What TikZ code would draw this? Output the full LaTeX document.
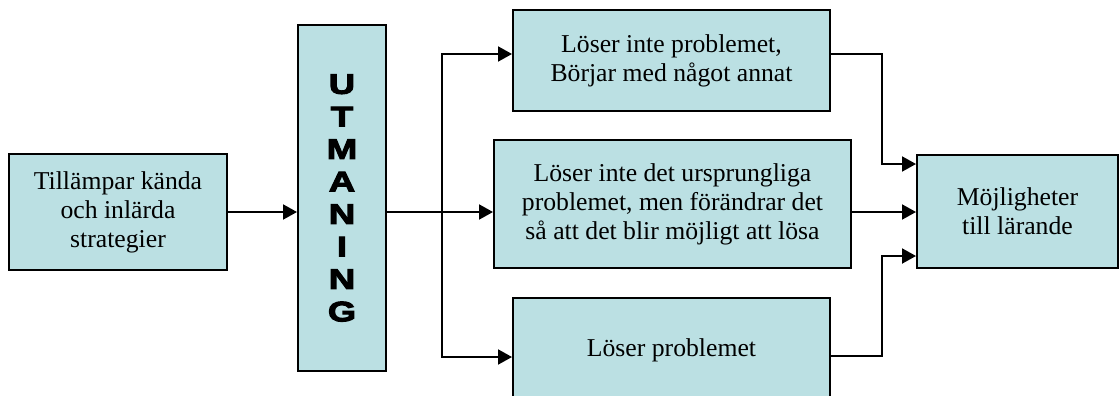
\documentclass[tikz,border=0pt]{standalone}
\usepackage{fontspec}
\setmainfont{Liberation Serif}
\newfontfamily\heavyfont{Liberation Sans}[BoldFeatures={FakeBold=4,FakeStretch=1.3}]
\usetikzlibrary{arrows.meta}
\definecolor{boxfill}{RGB}{187,224,227}
\tikzset{
  box/.style={draw=black, line width=1pt, fill=boxfill, inner sep=0pt,
    align=center, font=\fontsize{12.85}{14.5}\selectfont},
  link/.style={draw=black, line width=1pt},
  arr/.style={link, -{Triangle[length=7pt,width=7.5pt]}}
}
\begin{document}
\begin{tikzpicture}[x=0.5pt,y=-0.5pt]
  \useasboundingbox (0,0) rectangle (1119,396);
  \clip (0,0) rectangle (1119,396);

  % boxes (positions in pixel units, sizes in pt)
  \node[box, minimum width=109pt, minimum height=58pt] (apply) at (118,212)
    {Tillämpar kända\\och inlärda\\strategier};
  \node[box, minimum width=44pt, minimum height=173pt,
        font=\heavyfont\bfseries\fontsize{14}{16.25}\selectfont] (chal) at (342,198)
    {U\\T\\M\\A\\N\\I\\N\\G};
  \node[box, minimum width=158.5pt, minimum height=50.5pt] (other) at (671.5,60.5)
    {Löser inte problemet,\\Börjar med något annat};
  \node[box, minimum width=178.5pt, minimum height=64pt] (change) at (672.5,204)
    {Löser inte det ursprungliga\\problemet, men förändrar det\\så att det blir möjligt att lösa};
  \node[box, minimum width=158.5pt, minimum height=52pt] (solve) at (671.5,350)
    {Löser problemet};
  \node[box, minimum width=100.5pt, minimum height=56.5pt] (learn) at (1017.5,211.5)
    {Möjligheter\\till lärande};

  % junction points of the connectors
  \coordinate (split) at (442,212);
  \coordinate (merge) at (882,212);
  \coordinate (intop) at ([yshift=23.75pt]learn.west);
  \coordinate (inbot) at ([yshift=-22.25pt]learn.west);

  % into the challenge
  \draw[arr] (apply.east) -- (apply.east -| chal.west);

  % out of the challenge to the three responses
  \draw[link] (chal.east |- split) -- (split);
  \draw[arr] (split) -- (change.west |- split);
  \draw[arr] (split) |- ([yshift=3.25pt]other.west);
  \draw[arr] (split) |- ([yshift=-3.5pt]solve.west);

  % responses to learning
  \draw[arr] ([yshift=3.25pt]other.east) -| (merge |- intop) -- (intop);
  \draw[arr] (change.east |- split) -- (learn.west |- split);
  \draw[arr] ([yshift=-3pt]solve.east) -| (merge |- inbot) -- (inbot);
\end{tikzpicture}
\end{document}
